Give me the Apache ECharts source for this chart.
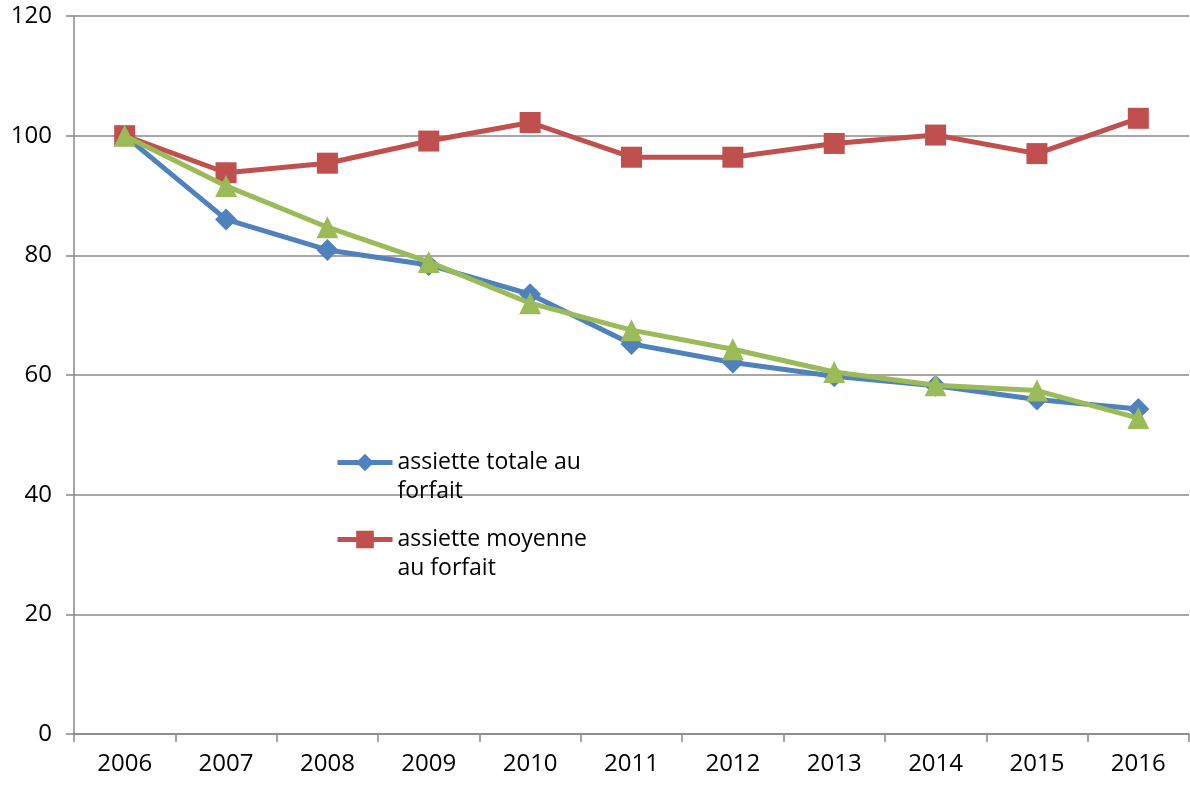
<!DOCTYPE html>
<html>
<head>
<meta charset="utf-8">
<script src="https://cdn.jsdelivr.net/npm/echarts@6/dist/echarts.min.js"></script>
<style>
  html, body { margin: 0; padding: 0; background: #fff; }
  #main { width: 1190px; height: 785px; }
</style>
</head>
<body>
<div id="main"></div>
<script>
var years = ['2006', '2007', '2008', '2009', '2010', '2011', '2012', '2013', '2014', '2015', '2016'];
var totale = [100, 86.0, 80.9, 78.4, 73.5, 65.2, 62.1, 59.8, 58.2, 55.9, 54.3];
var moyenne = [100, 93.8, 95.4, 99.1, 102.2, 96.4, 96.4, 98.7, 100.1, 97.0, 102.9];
var troisieme = [100, 91.6, 84.7, 78.9, 72.0, 67.5, 64.3, 60.5, 58.3, 57.4, 52.8];

var myChart = echarts.init(document.getElementById('main'), null, { renderer: 'canvas' });

var axisGrey = '#888888';

var option = {
    animation: false,
    textStyle: { fontFamily: 'Open Sans, Noto Sans, sans-serif' },
    grid: { left: 74, right: 1, top: 16, bottom: 51 },
    legend: {
        data: ['assiette totale au\nforfait', 'assiette moyenne\nau forfait'],
        // blank first line so the icon sits on the first text line
        formatter: function (name) { return '\n' + name; },
        orient: 'vertical',
        left: 330,
        top: 414,
        padding: 5,
        itemWidth: 55,
        itemHeight: 22,
        itemGap: -10,
        lineStyle: { width: 5 },
        textStyle: {
            fontSize: 23,
            lineHeight: 29,
            color: '#000'
        }
    },
    xAxis: {
        type: 'category',
        data: years,
        boundaryGap: true,
        axisLine: { lineStyle: { color: axisGrey, width: 1.5 } },
        axisTick: { show: true, length: 8, inside: false, lineStyle: { color: axisGrey, width: 1.5 } },
        axisLabel: { fontSize: 24, color: '#000', margin: 18 },
        splitLine: { show: false }
    },
    yAxis: {
        type: 'value',
        min: 0,
        max: 120,
        interval: 20,
        axisLine: { show: true, lineStyle: { color: axisGrey, width: 1.5 } },
        axisTick: { show: true, length: 8, lineStyle: { color: axisGrey, width: 1.5 } },
        axisLabel: { fontSize: 24, color: '#000', margin: 22 },
        splitLine: { show: true, lineStyle: { color: axisGrey, width: 1.5 } }
    },
    series: [
        {
            name: 'assiette totale au\nforfait',
            type: 'line',
            data: totale,
            symbol: 'diamond',
            symbolSize: 22,
            color: '#4F81BD',
            lineStyle: { width: 5, color: '#4F81BD' },
            itemStyle: { color: '#4F81BD' },
            z: 2
        },
        {
            name: 'assiette moyenne\nau forfait',
            type: 'line',
            data: moyenne,
            symbol: 'rect',
            symbolSize: 21,
            color: '#C0504D',
            lineStyle: { width: 5, color: '#C0504D' },
            itemStyle: { color: '#C0504D' },
            z: 3
        },
        {
            name: 'serie 3',
            type: 'line',
            data: troisieme,
            symbol: 'triangle',
            symbolSize: 22,
            color: '#9BBB59',
            lineStyle: { width: 5, color: '#9BBB59' },
            itemStyle: { color: '#9BBB59' },
            z: 4
        }
    ]
};

if (option && typeof option === 'object') {
    myChart.setOption(option);
}
window.addEventListener('resize', myChart.resize);
</script>
</body>
</html>
